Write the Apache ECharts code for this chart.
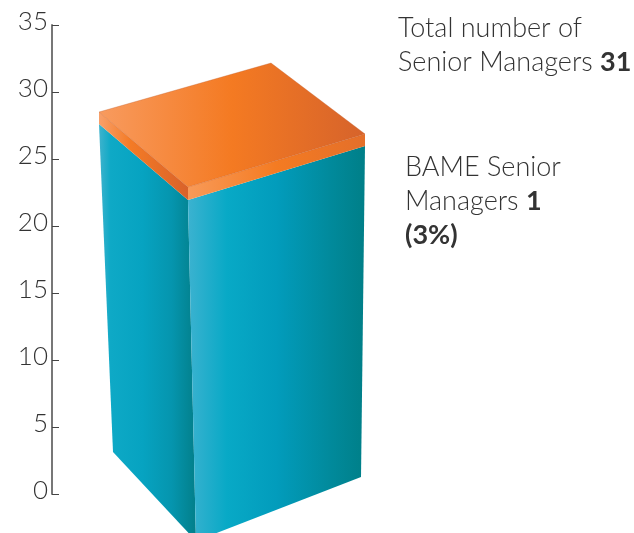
<!DOCTYPE html>
<html><head><meta charset="utf-8">
<style>html,body{margin:0;padding:0;background:#fff;overflow:hidden}#c{width:634px;height:533px}</style>
<script src="https://cdn.jsdelivr.net/npm/echarts@6/dist/echarts.min.js"></script>
</head><body><div id="c"></div>
<script>
const categories = ['Senior Managers'];
const totalManagers = [31];
const bameManagers = [1];
const bamePercent = [3];
const axisTicks = [0, 5, 10, 15, 20, 25, 30, 35];

const FONT = 'Lato';
const TEXT = '#333';
const SIZE = 27;
const chart = echarts.init(document.getElementById('c'), null, {renderer: 'canvas'});
const lg = (stops) => new echarts.graphic.LinearGradient(0, 0, 1, 0,
  stops.map(s => ({offset: s[0], color: s[1]})));

// Pictorial projection: footprint offsets of the box at its top and at its base.
const TOP = {front: [0, 0], left: [-89, -76], right: [177, -54], back: [83, -124]};
const BASE = {front: [8, 11], left: [-75, -78], right: [173, -53]};

function renderBox(params, api) {
  const total = api.value(1), bame = api.value(2);
  const p = (v) => api.coord([api.value(0), v]);
  const base = p(0), bodyTop = p(total - bame), barTop = p(total);
  const bandH = (bodyTop[1] - barTop[1]) * 1.18;
  const at = (o, a, dy) => [a[0] + o[0], a[1] + o[1] - (dy || 0)];
  const poly = (points, fill, extra) => ({
    type: 'polygon', shape: {points}, style: Object.assign({fill}, extra || {})
  });
  const tf = at(TOP.front, bodyTop), tl = at(TOP.left, bodyTop), tr = at(TOP.right, bodyTop);
  const bf = at(BASE.front, [bodyTop[0], base[1]]), bl = at(BASE.left, [bodyTop[0], base[1]]),
        br = at(BASE.right, [bodyTop[0], base[1]]);
  const utf = at(TOP.front, bodyTop, bandH), utl = at(TOP.left, bodyTop, bandH - 1),
        utr = at(TOP.right, bodyTop, bandH - 1), utb = at(TOP.back, bodyTop, bandH);
  return {type: 'group', children: [
    poly([tl, tf, bf, bl], lg([[0,'#3fb3cd'],[0.12,'#0ea9c6'],[0.45,'#06a3c1'],[0.75,'#0595ae'],[1,'#027f8a']])),
    poly([tf, tr, br, bf], lg([[0,'#3bb2d0'],[0.22,'#08a9c6'],[0.5,'#029cbc'],[0.8,'#018a9c'],[1,'#007f88']])),
    poly([utl, utf, tf, tl], lg([[0,'#f8a06a'],[0.35,'#f47b26'],[1,'#d9622a']])),
    poly([utf, utr, tr, tf], lg([[0,'#f89a58'],[0.5,'#f47b22'],[1,'#e46f2a']])),
    poly([utl, utf, utr, utb], lg([[0,'#f89b5f'],[0.5,'#f47a22'],[1,'#d6632b']]),
      {stroke: 'rgba(190,90,40,0.55)', lineWidth: 0.6})
  ]};
}

const boldStyle = {fontFamily: FONT, fontSize: SIZE, fontWeight: 700, fill: TEXT, lineHeight: 34};
const label = (x, y, text) => ({
  type: 'text', x, y, silent: true,
  style: {text, fontFamily: FONT, fontSize: SIZE, fontWeight: 300, fill: TEXT, lineHeight: 34,
    rich: {b: boldStyle, n: {fontFamily: FONT, fontSize: SIZE, fontWeight: 300, fill: TEXT, lineHeight: 34}}}
});

chart.setOption({
  animation: false,
  backgroundColor: '#fff',
  grid: [
    {left: 52, top: 25, width: 120, height: 469, containLabel: false},
    {left: 88, top: 145, width: 200, height: 385}
  ],
  xAxis: [
    {type: 'category', gridIndex: 0, data: categories, show: false},
    {type: 'category', gridIndex: 1, data: categories, show: false}
  ],
  yAxis: [
    {type: 'value', gridIndex: 0, min: axisTicks[0], max: axisTicks[axisTicks.length - 1], interval: 5,
     splitLine: {show: false},
     axisLine: {show: true, lineStyle: {color: '#777', width: 2}},
     axisTick: {show: true, inside: true, length: 7, lineStyle: {color: '#444', width: 1}},
     axisLabel: {margin: 4, verticalAlign: 'middle', formatter: '{t|{value}}',
       rich: {t: {color: TEXT, fontFamily: FONT, fontWeight: 300, fontSize: 26, padding: [0, 0, 7, 0]}}}},
    {type: 'value', gridIndex: 1, min: 0, max: 35, show: false}
  ],
  series: [{
    type: 'custom', xAxisIndex: 1, yAxisIndex: 1, clip: false,
    encode: {x: 0, y: 1},
    data: categories.map((c, i) => [c, totalManagers[i], bameManagers[i]]),
    renderItem: renderBox
  }],
  graphic: [
    label(398, 11, `{n|Total number of}\n{n|Senior Managers }{b|${totalManagers[0]}}`),
    label(405, 150, `{n|BAME Senior}\n{n|Managers }{b|${bameManagers[0]}}\n{b|(${bamePercent[0]}%)}`)
  ]
});
</script></body></html>
